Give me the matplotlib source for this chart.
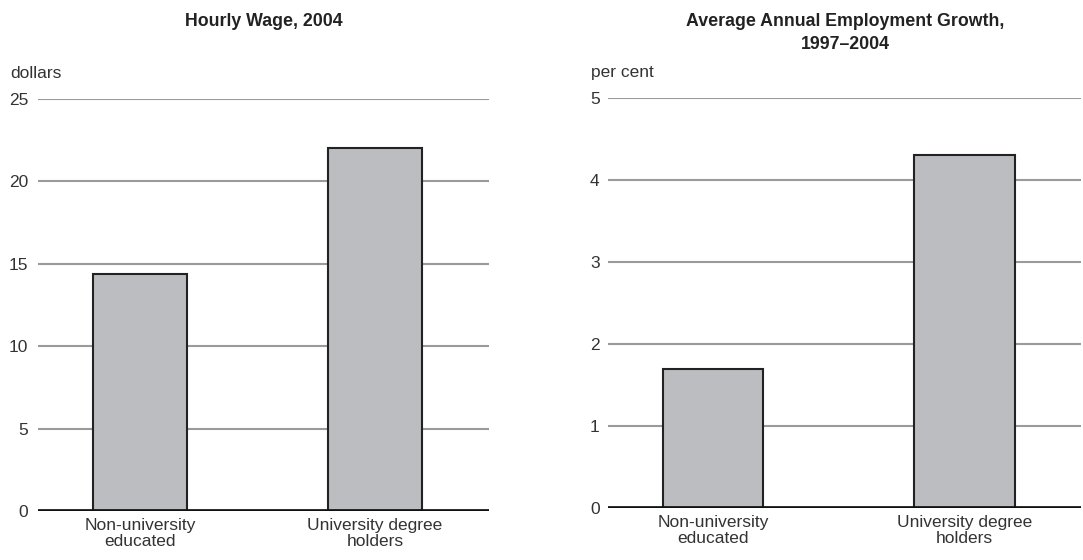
#!/usr/bin/env python3
"""Hourly wage and employment growth by education, two bar panels."""

import matplotlib
matplotlib.use('Agg')
import matplotlib.pyplot as plt

plt.rcParams['font.family'] = ['Liberation Sans', 'DejaVu Sans']

categories = ['Non-university\neducated', 'University degree\nholders']
wage = [14.4, 22.0]
growth = [1.7, 4.3]

wage_ticks = [0, 5, 10, 15, 20, 25]
growth_ticks = [0, 1, 2, 3, 4, 5]

TEXT = '#333333'
BAR = '#bcbdc1'
GRID = '#9a9a9a'


def draw_panel(ax, values, ticks, xlim, pad):
    x = range(len(values))
    ax.set_axisbelow(True)
    for t in ticks[1:]:
        ax.axhline(t, color=GRID, linewidth=1.5, zorder=0)
    ax.bar(x, values, width=0.4, color=BAR, edgecolor='#222222',
           linewidth=1.5, zorder=2)
    ax.axhline(0, color='#111111', linewidth=3.4, zorder=3)
    ax.set_xlim(*xlim)
    ax.set_ylim(ticks[0], ticks[-1])
    ax.set_yticks(ticks)
    ax.set_yticklabels([str(t) for t in ticks])
    ax.set_xticks(list(x))
    ax.set_xticklabels(categories, linespacing=1.1)
    ax.tick_params(axis='y', length=0, pad=pad, labelsize=12.5, colors=TEXT)
    ax.tick_params(axis='x', length=0, pad=5, labelsize=12.5, colors=TEXT)
    for s in ax.spines.values():
        s.set_visible(False)


fig = plt.figure(figsize=(10.83, 5.6), dpi=100)

ax1 = fig.add_axes([38 / 1083, 1 - 511 / 560, 451 / 1083, 412 / 560])
draw_panel(ax1, wage, wage_ticks, (-0.434, 1.485), 7)

ax2 = fig.add_axes([608 / 1083, 1 - 508 / 560, 473 / 1083, 410 / 560])
draw_panel(ax2, growth, growth_ticks, (-0.417, 1.463), 6)

fig.text(264 / 1083, 1 - 21 / 560, 'Hourly Wage, 2004', ha='center', va='center',
         fontsize=12.8, fontweight='bold', color='#222222')
fig.text(845 / 1083, 1 - 33 / 560, 'Average Annual Employment Growth,\n1997\u20132004',
         ha='center', va='center', fontsize=12.8, fontweight='bold', color='#222222',
         linespacing=1.4)
fig.text(10 / 1083, 1 - 73 / 560, 'dollars', ha='left', va='center',
         fontsize=12.5, color=TEXT)
fig.text(591 / 1083, 1 - 73 / 560, 'per cent', ha='left', va='center',
         fontsize=12.5, color=TEXT)

plt.savefig('out.png', dpi=100)
